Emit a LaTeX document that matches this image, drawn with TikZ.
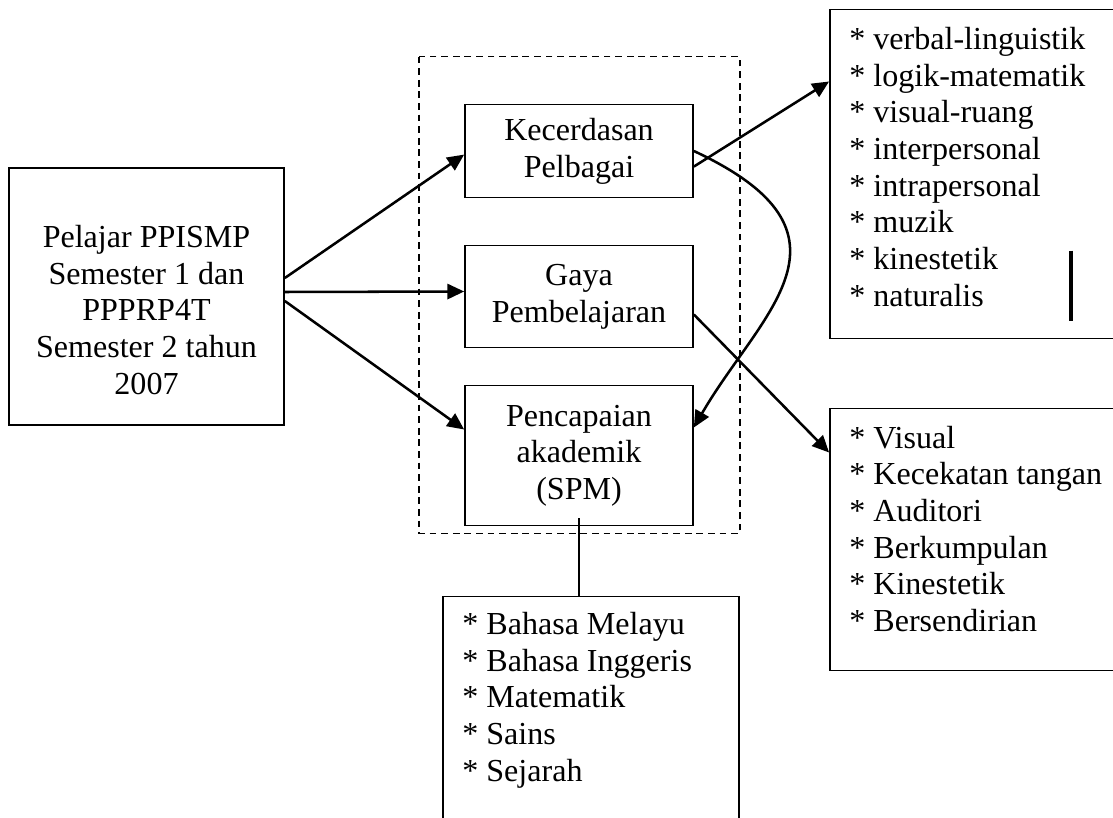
\documentclass[tikz,border=0pt]{standalone}
\usepackage{fontspec}
\setmainfont{Liberation Serif}
\usetikzlibrary{arrows.meta}
\tikzstyle{box} = [rectangle, draw=black, line width=1.2pt, align=center, minimum width=5.7cm]
\tikzstyle{pelajarbox} = [rectangle, draw=black, line width=1.2pt, align=center, minimum width=6.875cm, minimum height=6.425cm]
\tikzstyle{listbox} = [rectangle, draw=black, line width=1.3pt, minimum width=7.375cm]
\tikzstyle{listtext} = [anchor=north west, align=left, inner sep=0pt]
\tikzstyle{arrow} = [line width=1.8pt, -{Triangle[length=0.42cm, width=0.38cm]}]
\tikzstyle{line} = [line width=1.8pt]
\tikzstyle{group} = [line width=1.2pt, dash pattern=on 0.17cm off 0.12cm]

\begin{document}
\begin{tikzpicture}[node distance=2cm, font=\fontsize{22.8pt}{26.1pt}\selectfont]
\useasboundingbox (0,0) rectangle (27.825,-20.45);

\node (pelajar) [pelajarbox] at (3.6625,-7.4125) {\mbox{}\\[8.6pt]Pelajar PPISMP\\Semester 1 dan\\PPPRP4T\\Semester 2 tahun\\2007};
\node (gaya) [box, minimum height=2.55cm, right of=pelajar, node distance=10.8125cm] {Gaya\\Pembelajaran};
\node (kecerdasan) [box, minimum height=2.325cm, above of=gaya, node distance=3.6375cm] {Kecerdasan\\Pelbagai};
\node (pencapaian) [box, minimum height=3.5cm, below of=gaya, node distance=3.975cm] {Pencapaian\\akademik\\(SPM)};

\node (mibox) [listbox, minimum height=8.225cm, right of=kecerdasan, node distance=9.9625cm, yshift=-0.575cm] {};
\node (gayabox) [listbox, minimum height=6.55cm, right of=gaya, node distance=9.9625cm, yshift=-6.075cm] {};
\node (spmbox) [listbox, minimum width=7.4cm, minimum height=6.575cm, below of=pencapaian, node distance=6.8125cm, xshift=0.3cm] {};

\node (milist) [listtext] at ([xshift=0.5cm, yshift=-0.46cm]mibox.north west) {* verbal-linguistik\\* logik-matematik\\* visual-ruang\\* interpersonal\\* intrapersonal\\* muzik\\* kinestetik\\* naturalis};
\node (gayalist) [listtext] at ([xshift=0.5cm, yshift=-0.45cm]gayabox.north west) {* Visual\\* Kecekatan tangan\\* Auditori\\* Berkumpulan\\* Kinestetik\\* Bersendirian};
\node (spmlist) [listtext] at ([xshift=0.5cm, yshift=-0.41cm]spmbox.north west) {* Bahasa Melayu\\* Bahasa Inggeris\\* Matematik\\* Sains\\* Sejarah};

% kotak putus-putus
\draw [group] ([xshift=-1.125cm, yshift=1.175cm]kecerdasan.north west) rectangle ([xshift=1.15cm, yshift=-0.175cm]pencapaian.south east);
\draw [line width=2.8pt] ([xshift=6.05cm, yshift=-6.05cm]mibox.north west) -- ++(0,-1.75);

\draw [arrow] ([yshift=0.4625cm]pelajar.east) -- ([yshift=-0.09cm]kecerdasan.west);
\draw [arrow] ([yshift=0.1125cm]pelajar.east) -- ([yshift=0.125cm]gaya.west);
\draw [arrow] ([yshift=-0.1125cm]pelajar.east) -- ([yshift=0.65cm]pencapaian.west);
\draw [arrow] ([yshift=-0.39cm]kecerdasan.east) -- ([yshift=2.3125cm]mibox.west);
\draw [arrow] (kecerdasan.east) .. controls +(-25:4.9cm) and +(60:3.3cm) .. ([yshift=0.7cm]pencapaian.east);
\draw [arrow] ([yshift=-0.45cm]gaya.east) -- ([yshift=2.175cm]gayabox.west);
\draw [line] ([yshift=0.2cm]pencapaian.south) -- (pencapaian.south |- spmbox.north);

\end{tikzpicture}
\end{document}
